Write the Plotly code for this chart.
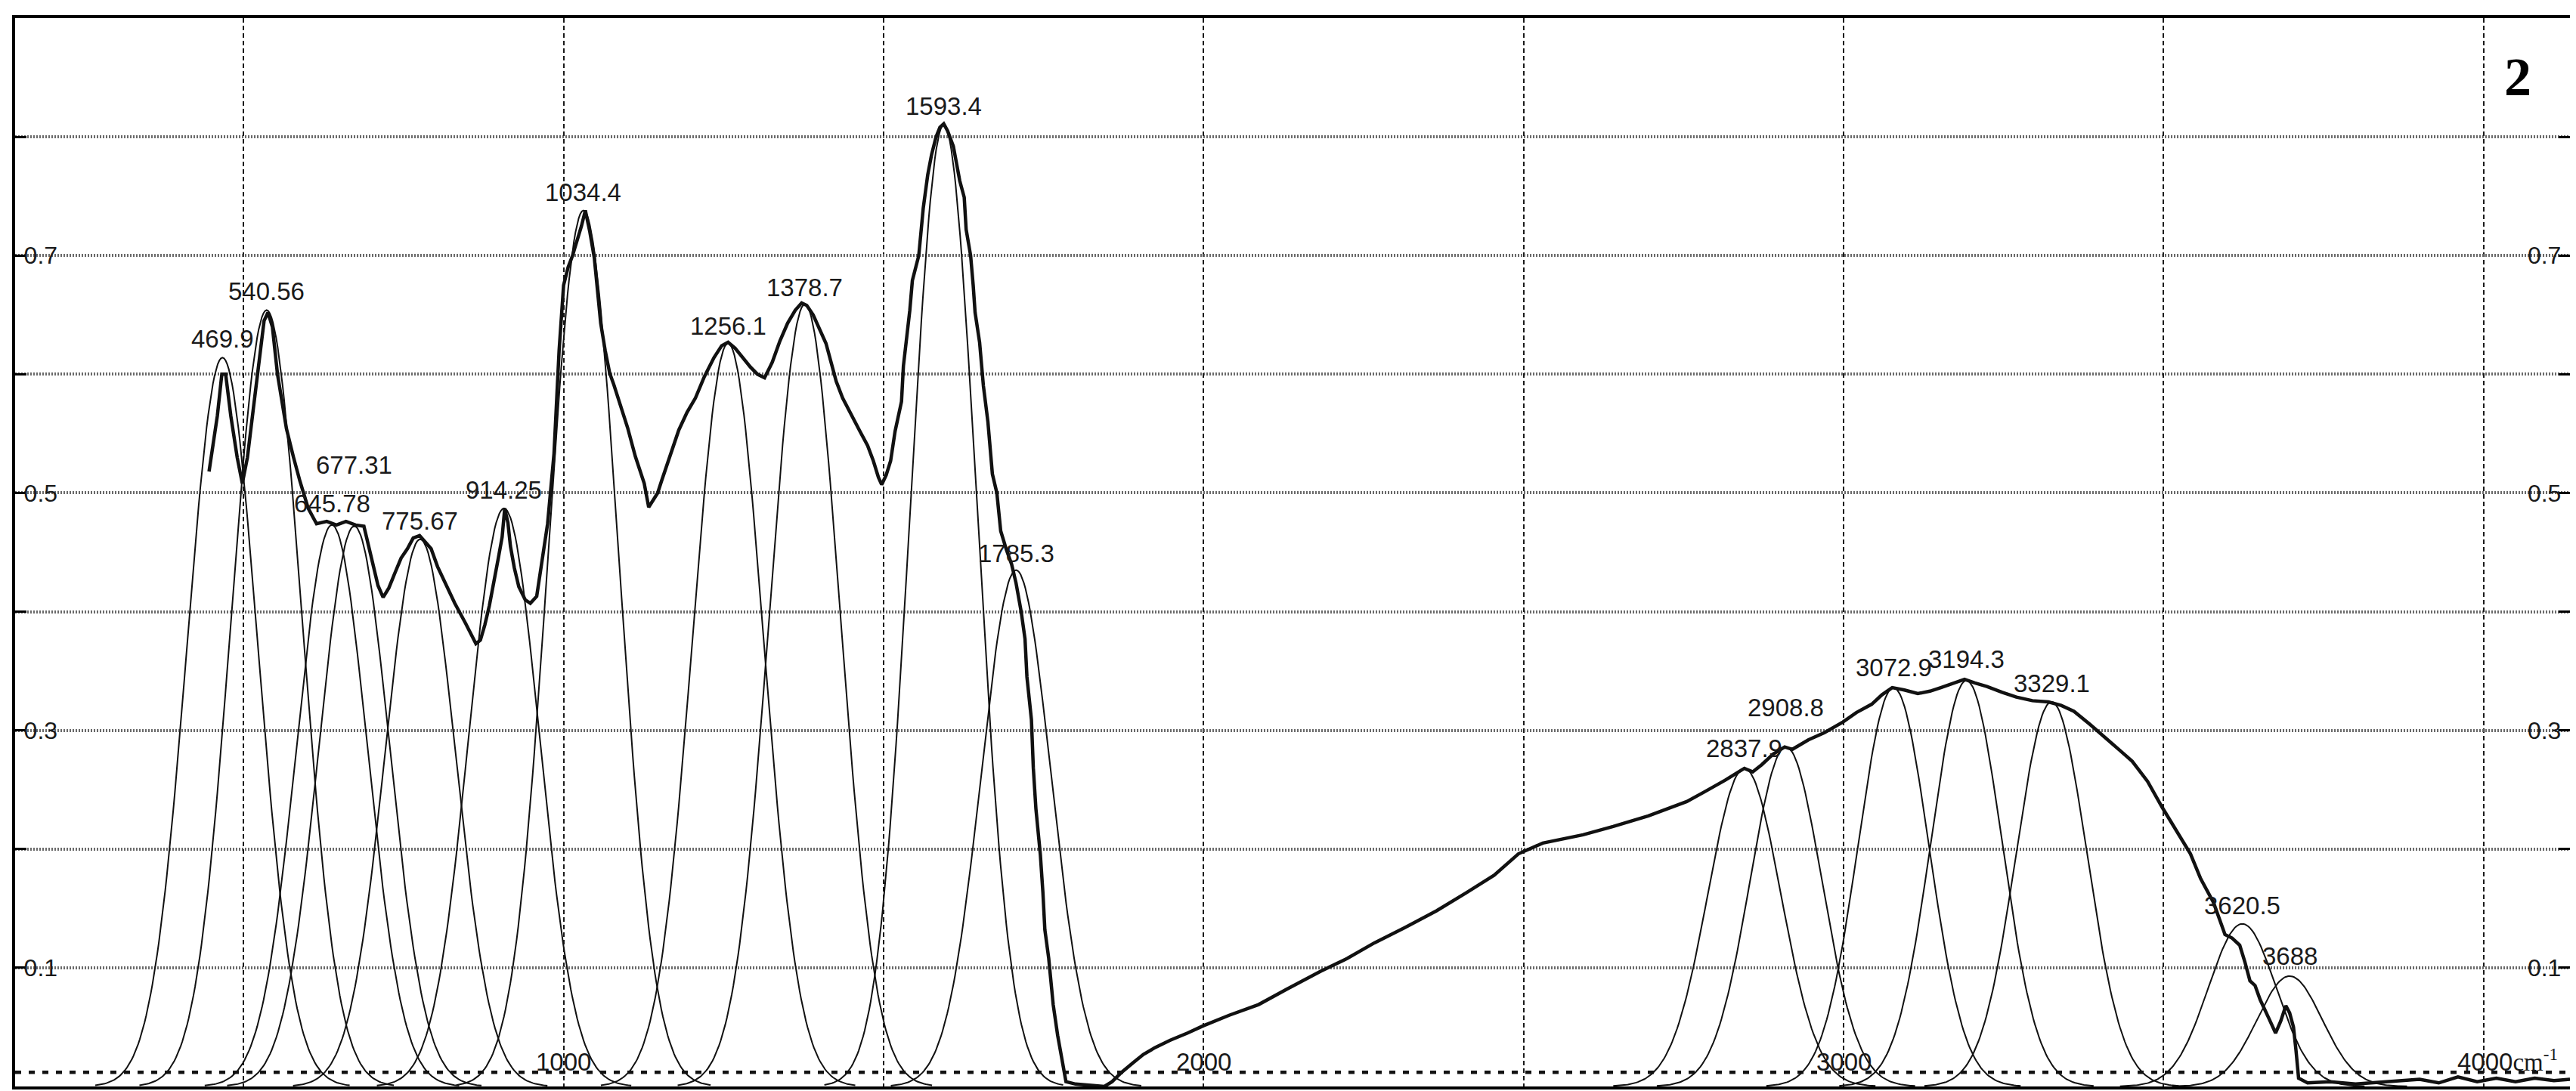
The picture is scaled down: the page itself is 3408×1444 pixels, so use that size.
import numpy as np
import plotly.graph_objects as go

# ---------------- data ----------------
# component (fitted) peaks
peak_labels = ["469.9", "540.56", "645.78", "677.31", "775.67", "914.25", "1034.4",
               "1256.1", "1378.7", "1593.4", "1785.3", "2837.9", "2908.8", "3072.9",
               "3194.3", "3329.1", "3620.5", "3688"]
peak_center = [467, 536, 638, 673, 776, 907, 1031, 1257, 1377, 1594, 1707, 2845, 2910,
               3078, 3192, 3325, 3623, 3697]
peak_height = [0.614, 0.654, 0.473, 0.472, 0.461, 0.487, 0.738, 0.626, 0.659, 0.810,
               0.435, 0.268, 0.286, 0.336, 0.342, 0.324, 0.137, 0.093]
peak_fwhm = [130, 130, 130, 130, 130, 130, 130, 130, 130, 122, 128, 134, 132, 130,
             130, 130, 125, 120]

# measured spectrum (wavenumber, absorbance)
spec_x = [446, 453, 459, 466, 472, 480, 490, 498, 506, 515, 524, 532, 538, 545, 553, 560,
          567, 578, 588, 601, 614, 630, 645, 660, 675, 688, 692, 702, 710, 718, 727, 736,
          746, 756, 765, 775, 785, 793, 803, 815, 830, 847, 863, 870, 877, 884, 890, 898,
          904, 908, 913, 917, 923, 930, 940, 948, 958, 966, 975, 985, 993, 1000, 1007,
          1014, 1021, 1028, 1034, 1041, 1048, 1053, 1058, 1065, 1072, 1078, 1085, 1092,
          1100, 1112, 1120, 1126, 1133, 1140, 1147, 1153, 1167, 1180, 1193, 1206, 1220,
          1235, 1247, 1257, 1268, 1280, 1292, 1303, 1314, 1326, 1338, 1350, 1362, 1372,
          1380, 1390, 1400, 1410, 1418, 1426, 1436, 1450, 1463, 1475, 1484, 1492, 1497,
          1504, 1511, 1518, 1524, 1528, 1531, 1536, 1541, 1545, 1555, 1562, 1569, 1575,
          1582, 1588, 1594, 1600, 1609, 1619, 1626, 1629, 1636, 1640, 1643, 1650, 1653,
          1656, 1663, 1670, 1677, 1680, 1683, 1692, 1700, 1707, 1715, 1721, 1724, 1731,
          1734, 1738, 1745, 1749, 1752, 1758, 1765, 1772, 1779, 1785, 1800, 1820, 1845,
          1857, 1872, 1890, 1906, 1925, 1948, 1975, 1999, 2040, 2086, 2130, 2183, 2225,
          2267, 2315, 2364, 2410, 2454, 2492, 2530, 2593, 2640, 2695, 2727, 2755, 2782,
          2815, 2845, 2858, 2872, 2890, 2908, 2920, 2945, 2970, 2999, 3020, 3044, 3060,
          3076, 3095, 3116, 3135, 3152, 3172, 3189, 3205, 3224, 3248, 3270, 3295, 3320,
          3340, 3360, 3385, 3414, 3432, 3451, 3475, 3498, 3520, 3542, 3558, 3578, 3588,
          3596, 3607, 3619, 3627, 3635, 3643, 3651, 3664, 3675, 3683, 3691, 3697, 3703,
          3707, 3711, 3725, 3760, 3800, 3850, 3900, 3930, 3960, 3990, 4020, 4050, 4080,
          4110, 4135]
spec_y = [0.518, 0.541, 0.565, 0.600, 0.600, 0.565, 0.530, 0.508, 0.530, 0.570, 0.610,
          0.645, 0.652, 0.640, 0.600, 0.575, 0.554, 0.530, 0.510, 0.487, 0.474, 0.476,
          0.473, 0.476, 0.473, 0.472, 0.463, 0.442, 0.422, 0.412, 0.420, 0.432, 0.445,
          0.453, 0.462, 0.464, 0.458, 0.453, 0.438, 0.424, 0.407, 0.390, 0.373, 0.376,
          0.389, 0.405, 0.421, 0.445, 0.463, 0.487, 0.475, 0.455, 0.437, 0.421, 0.410,
          0.407, 0.413, 0.440, 0.474, 0.533, 0.620, 0.675, 0.690, 0.700, 0.712, 0.725,
          0.738, 0.720, 0.698, 0.670, 0.643, 0.620, 0.601, 0.592, 0.580, 0.569, 0.555,
          0.531, 0.518, 0.508, 0.488, 0.494, 0.500, 0.510, 0.533, 0.553, 0.568, 0.580,
          0.598, 0.614, 0.624, 0.627, 0.622, 0.614, 0.606, 0.600, 0.597, 0.610, 0.628,
          0.643, 0.654, 0.660, 0.658, 0.650, 0.638, 0.626, 0.610, 0.594, 0.580, 0.565,
          0.552, 0.540, 0.527, 0.513, 0.507, 0.515, 0.527, 0.552, 0.567, 0.577, 0.607,
          0.630, 0.654, 0.679, 0.700, 0.740, 0.768, 0.785, 0.800, 0.808, 0.811, 0.805,
          0.792, 0.763, 0.749, 0.722, 0.700, 0.675, 0.652, 0.627, 0.605, 0.590, 0.560,
          0.516, 0.500, 0.484, 0.468, 0.452, 0.440, 0.424, 0.400, 0.377, 0.345, 0.309,
          0.268, 0.234, 0.195, 0.163, 0.132, 0.108, 0.069, 0.043, 0.021, 0.004, 0.002,
          0.001, 0.000, 0.004, 0.012, 0.020, 0.027, 0.033, 0.039, 0.045, 0.051, 0.060,
          0.069, 0.082, 0.097, 0.108, 0.121, 0.134, 0.148, 0.163, 0.178, 0.196, 0.205,
          0.212, 0.219, 0.228, 0.234, 0.240, 0.248, 0.258, 0.268, 0.265, 0.271, 0.280,
          0.286, 0.284, 0.292, 0.298, 0.307, 0.315, 0.322, 0.330, 0.336, 0.334, 0.331,
          0.333, 0.336, 0.340, 0.343, 0.340, 0.337, 0.332, 0.328, 0.325, 0.324, 0.321,
          0.316, 0.305, 0.292, 0.283, 0.274, 0.257, 0.235, 0.215, 0.196, 0.175, 0.155,
          0.140, 0.128, 0.125, 0.119, 0.105, 0.089, 0.085, 0.073, 0.058, 0.045, 0.055,
          0.068, 0.062, 0.050, 0.030, 0.007, 0.003, 0.004, 0.002, 0.004, 0.006, 0.003,
          0.008, 0.004, 0.007, 0.004, 0.007, 0.005, 0.006]

x_ticks = [500, 1000, 1500, 2000, 2500, 3000, 3500, 4000]
x_label_vals = [1000, 2000, 3000, 4000]
x_label_text = ["1000", "2000", "3000", "4000"]
y_label_vals = [0.1, 0.3, 0.5, 0.7]
y_label_text = ["0.1", "0.3", "0.5", "0.7"]
y_minor_vals = [0.2, 0.4, 0.6, 0.8]
baseline_y = 0.012
x_range = [143, 4135]
y_range = [0.0, 0.9]
panel_tag = "2"

# ---------------- styling ----------------
SANS = "Liberation Sans, Arial, sans-serif"
SERIF = "Liberation Serif, Times New Roman, serif"
label_lift = [2, 2, 6, 58, 2, 2, 2, 0, 0, 2, 0, 4, 30, 4, 6, 2, 2, 4]
TXT = "#1a1a1a"
HGRID = dict(gridcolor="#6a6a6a", gridwidth=4, griddash="2px,2px")
TICK = dict(ticks="inside", ticklen=15, tickwidth=3, tickcolor="#000000")

fig = go.Figure()

# component peaks (Gaussian shapes defined by the read centre/height/FWHM)
for c, h, w in zip(peak_center, peak_height, peak_fwhm):
    s = w / 2.3548
    xx = np.linspace(c - 3.6 * s, c + 3.6 * s, 161)
    yy = h * np.exp(-0.5 * ((xx - c) / s) ** 2)
    fig.add_trace(go.Scatter(x=xx, y=yy, mode="lines",
                             line=dict(color="#111111", width=2),
                             hoverinfo="skip", showlegend=False))

# dotted baseline
fig.add_trace(go.Scatter(x=x_range, y=[baseline_y, baseline_y], mode="lines",
                         line=dict(color="#111111", width=4.5, dash="8px,10px"),
                         hoverinfo="skip", showlegend=False))

# measured spectrum
fig.add_trace(go.Scatter(x=spec_x, y=spec_y, mode="lines",
                         line=dict(color="#111111", width=4.5),
                         showlegend=False))

# invisible trace to realise the right-hand axis
fig.add_trace(go.Scatter(x=[x_range[0]], y=[y_range[0]], yaxis="y2", mode="markers",
                         marker=dict(opacity=0, size=1), hoverinfo="skip",
                         showlegend=False))

annotations = []
for lab, c, h, lift in zip(peak_labels, peak_center, peak_height, label_lift):
    annotations.append(dict(x=c, y=h, xref="x", yref="y", text=lab, showarrow=False,
                            xanchor="center", yanchor="bottom", yshift=lift + 2,
                            font=dict(family=SANS, size=33, color=TXT)))
for v, t in zip(x_label_vals, x_label_text):
    if v == x_label_vals[-1]:
        annotations.append(dict(x=v, y=0, xref="x", yref="y",
                                text=t + "<span style='font-family:Liberation Serif'>cm<sup>-1</sup></span>",
                                showarrow=False, xanchor="left", yanchor="bottom",
                                xshift=-37, yshift=12,
                                font=dict(family=SANS, size=33, color=TXT)))
    else:
        annotations.append(dict(x=v, y=0, xref="x", yref="y", text=t, showarrow=False,
                                xanchor="center", yanchor="bottom", yshift=12,
                                font=dict(family=SANS, size=33, color=TXT)))
annotations.append(dict(x=0.9795, y=0.945, xref="paper", yref="paper",
                        text="<b>" + panel_tag + "</b>",
                        showarrow=False, xanchor="center", yanchor="middle",
                        font=dict(family=SERIF, size=72, color="#000000")))

axis_y_common = dict(range=y_range, tickvals=y_label_vals, ticktext=y_label_text,
                     ticklabelposition="inside",
                     tickfont=dict(family=SANS, size=32, color=TXT),
                     zeroline=False, **TICK)

fig.update_layout(
    width=3408, height=1444,
    margin=dict(l=12, r=16, t=12, b=14),
    paper_bgcolor="white", plot_bgcolor="white",
    showlegend=False,
    annotations=annotations,
    xaxis=dict(range=x_range, tickvals=x_ticks, showticklabels=False, ticks="",
               showgrid=True, gridcolor="#1a1a1a", gridwidth=2, griddash="6px,4px",
               showline=True, linecolor="#000000", linewidth=4, mirror=True,
               zeroline=False),
    yaxis=dict(**axis_y_common, showgrid=True, **HGRID,
               minor=dict(tickvals=y_minor_vals, showgrid=True, **HGRID, **TICK),
               showline=True, linecolor="#000000", linewidth=4, mirror=True),
    yaxis2=dict(**axis_y_common, overlaying="y", side="right", showgrid=False,
                minor=dict(tickvals=y_minor_vals, showgrid=False, **TICK),
                showline=False),
)

fig.write_html("out.html")
